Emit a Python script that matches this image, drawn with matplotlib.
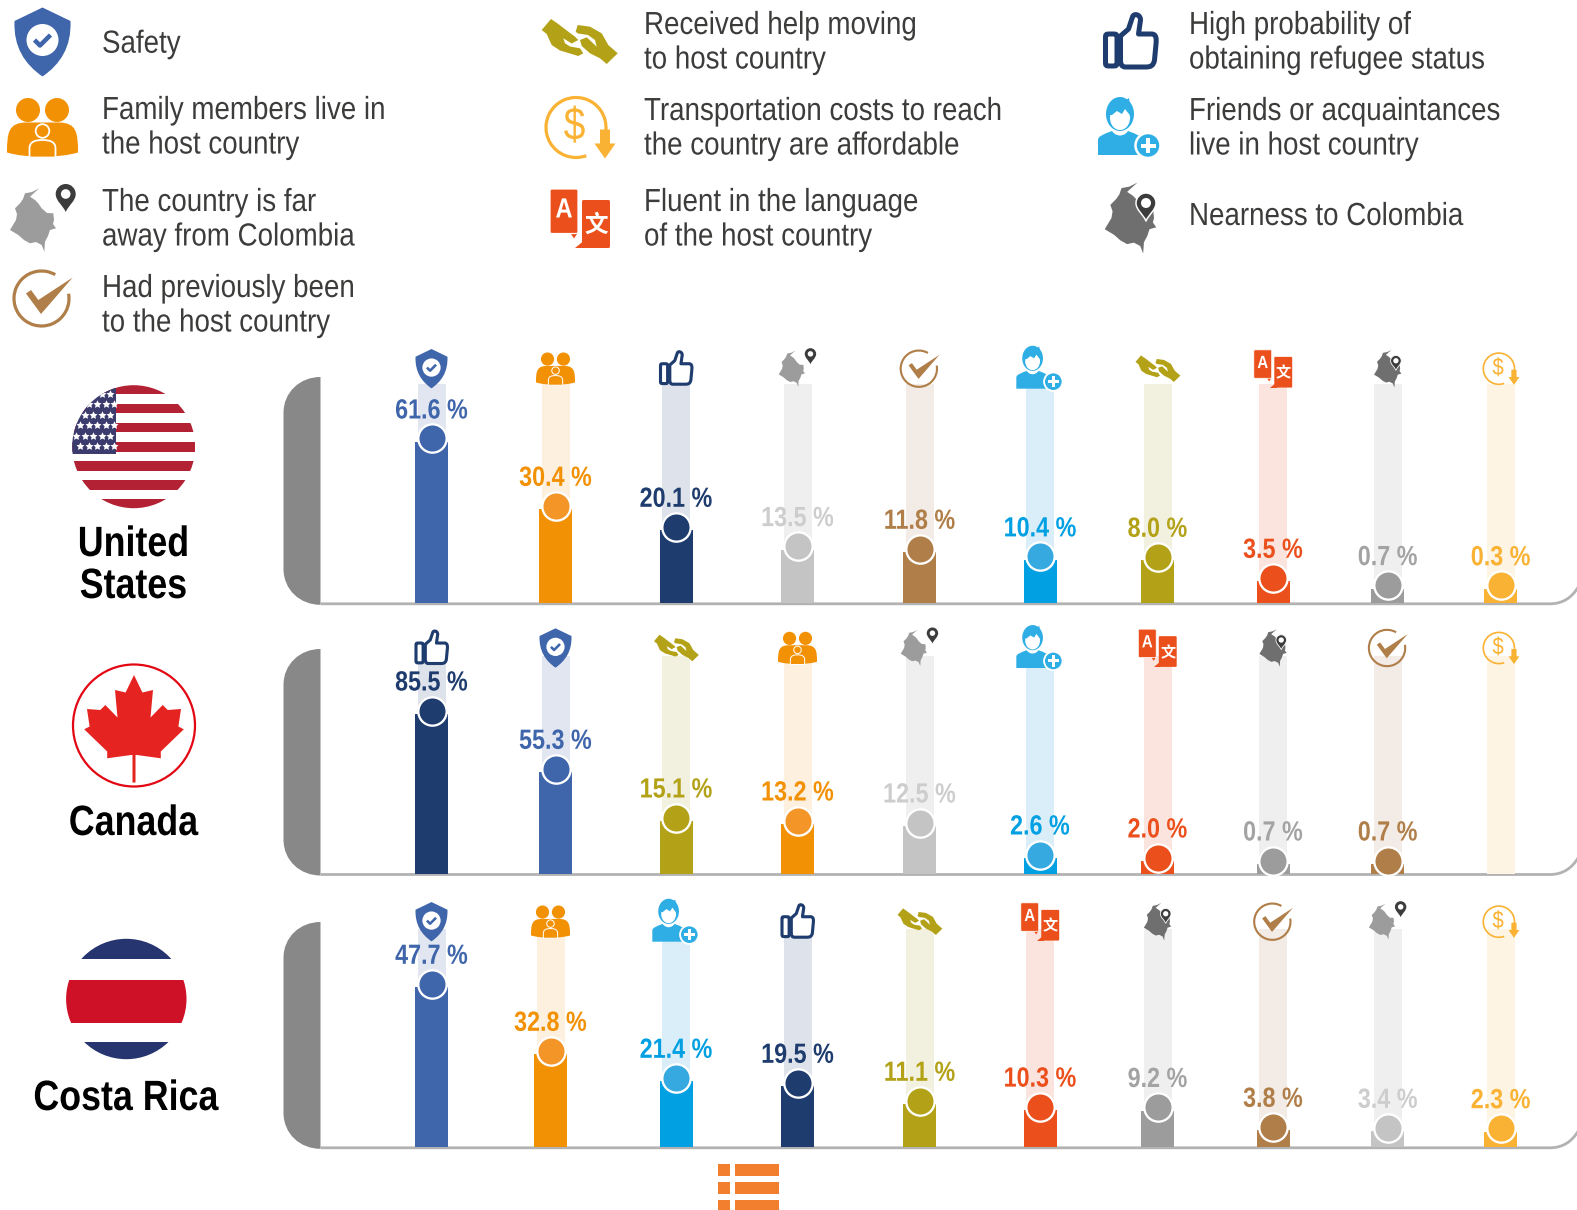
"""Reasons for choosing a host country: three panels of ranked bars with icons and flags."""

import matplotlib
matplotlib.use("Agg")
import matplotlib.pyplot as plt
import numpy as np
from matplotlib.patches import Circle, PathPatch, Polygon, Rectangle
from matplotlib.path import Path
from matplotlib.patheffects import AbstractPathEffect
from matplotlib.transforms import Affine2D, offset_copy

W, H = 1577, 1210
SANS = ["Liberation Sans", "DejaVu Sans"]

# Survey answers per host country, in ranked order (None = nothing reported).
US_KEYS = ["safety", "family", "refugee", "far", "before", "friends", "help", "language", "near", "cost"]
US_VALUES = [61.6, 30.4, 20.1, 13.5, 11.8, 10.4, 8.0, 3.5, 0.7, 0.3]
CA_KEYS = ["refugee", "safety", "help", "family", "far", "friends", "language", "near", "before", "cost"]
CA_VALUES = [85.5, 55.3, 15.1, 13.2, 12.5, 2.6, 2.0, 0.7, 0.7, None]
CR_KEYS = ["safety", "family", "friends", "refugee", "help", "language", "near", "before", "far", "cost"]
CR_VALUES = [47.7, 32.8, 21.4, 19.5, 11.1, 10.3, 9.2, 3.8, 3.4, 2.3]

# The panels use an uneven percent axis, one per country: percent -> height in px.
US_AXIS_PCT = [0, 0.3, 0.7, 3.5, 8.0, 10.4, 11.8, 13.5, 20.1, 30.4, 61.6, 84.0]
US_AXIS_PX = [0, 14.5, 14.7, 22, 43, 43.4, 51, 53.7, 73, 94, 161.3, 219]
CA_AXIS_PCT = [0, 0.7, 2.0, 2.6, 12.5, 13.2, 15.1, 55.3, 85.5, 117.0]
CA_AXIS_PX = [0, 10, 13, 16, 48, 50, 53, 101.7, 160, 218]
CR_AXIS_PCT = [0, 2.3, 3.4, 3.8, 9.2, 10.3, 11.1, 19.5, 21.4, 32.8, 47.7, 65.0]
CR_AXIS_PX = [0, 15.6, 16, 17, 36.8, 37.2, 43, 61, 66, 93, 160, 218]

BAR_COLOR = {"safety": "#3F65AB", "family": "#F29104", "refugee": "#1E3C6D", "far": "#C4C4C4",
             "before": "#B07E48", "friends": "#00A0E3", "help": "#B3A217", "language": "#EB501C",
             "near": "#9D9C9C", "cost": "#F9B233"}
DOT_COLOR = dict(BAR_COLOR, family="#F39527", friends="#36A9E0")
LABEL_COLOR = dict(BAR_COLOR, far="#CDCDCD", near="#A3A3A3")
TRACK_COLOR = {"safety": "#E2E6F1", "family": "#FDF0DF", "refugee": "#DDE2EB", "far": "#EFEFEF",
               "before": "#F3EBE5", "friends": "#D9EEF9", "help": "#F2F0DE", "language": "#FBE4DE",
               "near": "#EFEFEF", "cost": "#FEF4E3"}
ICON_SCALE = {"safety": 0.57, "family": 0.55, "refugee": 0.62, "far": 0.57, "before": 0.66,
              "friends": 0.74, "help": 0.59, "language": 0.64, "near": 0.53, "cost": 0.52}

SLOT_X = [431.5, 555.5, 676, 797.5, 919.5, 1040, 1157.5, 1273, 1387.7, 1500.7]

LEGEND = [
    ("safety", (42.5, 42), 102, 52.7, ["Safety"]),
    ("family", (42.5, 127.5), 102, 119, ["Family members live in", "the host country"]),
    ("far", (43, 220), 102, 211, ["The country is far", "away from Colombia"]),
    ("before", (42.5, 298.5), 102, 297, ["Had previously been", "to the host country"]),
    ("help", (579, 41.5), 644, 34, ["Received help moving", "to host country"]),
    ("cost", (579.5, 127.5), 644, 120, ["Transportation costs to reach", "the country are affordable"]),
    ("language", (580, 218.5), 644, 211, ["Fluent in the language", "of the host country"]),
    ("refugee", (1130.5, 42), 1189, 34, ["High probability of", "obtaining refugee status"]),
    ("friends", (1130, 128), 1189, 120, ["Friends or acquaintances", "live in host country"]),
    ("near", (1130.5, 218), 1189, 225, ["Nearness to Colombia"]),
]


class Condense(AbstractPathEffect):
    """Squeeze glyphs horizontally about a pixel column; no condensed family is installed."""

    def __init__(self, factor, anchor_x):
        super().__init__()
        self.factor = factor
        self.anchor_x = anchor_x

    def draw_path(self, renderer, gc, tpath, affine, rgbFace=None):
        squeeze = Affine2D().translate(-self.anchor_x, 0).scale(self.factor, 1).translate(self.anchor_x, 0)
        renderer.draw_path(gc, tpath, affine + squeeze, rgbFace)


def curve(start, *segs):
    """Closed path from a start point; 2-tuples are lines, 6-tuples are cubic curves."""
    verts, codes = [start], [Path.MOVETO]
    for seg in segs:
        if len(seg) == 2:
            verts.append(seg)
            codes.append(Path.LINETO)
        else:
            verts += [seg[:2], seg[2:4], seg[4:]]
            codes += [Path.CURVE4] * 3
    verts.append(start)
    codes.append(Path.CLOSEPOLY)
    return Path(verts, codes)


def rrect(x0, y0, x1, y1, r):
    return curve((x0 + r, y0), (x1 - r, y0), (x1, y0, x1, y0, x1, y0 + r), (x1, y1 - r),
                 (x1, y1, x1, y1, x1 - r, y1), (x0 + r, y1), (x0, y1, x0, y1, x0, y1 - r),
                 (x0, y0 + r), (x0, y0, x0, y0, x0 + r, y0))


def poly(*pts):
    return Path(list(pts) + [pts[0]], [Path.MOVETO] + [Path.LINETO] * (len(pts) - 1) + [Path.CLOSEPOLY])


COLOMBIA = poly((6.3, -31.7), (-1, -28), (-8, -26.7), (-10, -21), (-13, -16.7), (-18, -11.7), (-16, -6), (-17, 0),
                (-20, 5), (-23, 10), (-14.7, 15), (-9, 20), (-3, 23.3), (3, 22), (8.7, 25), (11.3, 31.7), (12, 21.7),
                (15, 16), (17, 10), (23, 8.3), (20, 4), (21, 0), (20.3, -6.7), (14, -7), (8.7, -11.7), (5, -17),
                (2, -20), (-3, -23.3), (1, -27))
PIN = curve((0, 14), (-3, 7, -10, 3, -10, -4), (-10, -9.5, -5.5, -14, 0, -14), (5.5, -14, 10, -9.5, 10, -4),
            (10, 3, 3, 7, 0, 14))


def draw_icon(ax, key, cx, cy, s):
    t = Affine2D().scale(s).translate(cx, cy) + ax.transData

    def add(path, fc="none", ec="none", lw=0.0):
        ax.add_patch(PathPatch(path, fc=fc, ec=ec, lw=lw * s * 0.72, transform=t, joinstyle="round"))

    def circ(x, y, r, **kw):
        add(Path.circle((x, y), r), **kw)

    col = BAR_COLOR[key]
    if key == "safety":
        add(curve((0, -34.5), (28, -21), (29, 5, 18, 22, 0, 34.5), (-18, 22, -29, 5, -28, -21)), fc=col)
        circ(0, -2, 16, fc="white")
        add(Path([(-8, -2), (-2.5, 3.5), (8, -7)]), ec=col, lw=4.5)
    elif key == "family":
        circ(-14.5, -17.5, 12, fc=col)
        circ(14.5, -17.5, 12, fc=col)
        add(curve((-35.5, 25), (-35.5, 5, -34, -5, -16, -5), (16, -5), (34, -5, 35.5, 5, 35.5, 25),
                  (25, 28, 15, 29, 0, 29), (-15, 29, -25, 28, -35.5, 25)), fc=col)
        circ(0, 3.5, 6.8, fc=col, ec="white", lw=1.8)
        add(curve((-13, 30), (-13, 21), (-13, 14, -7, 12.5, 0, 12.5), (7, 12.5, 13, 14, 13, 21), (13, 30)),
            fc=col, ec="white", lw=1.8)
    elif key == "far":
        add(COLOMBIA.transformed(Affine2D().translate(-10, 0)), fc="#9D9C9C")
        add(PIN.transformed(Affine2D().translate(22.7, -22)), fc="#3C3C3C")
        circ(22.7, -26, 4.8, fc="white")
    elif key == "near":
        add(COLOMBIA.transformed(Affine2D().scale(1.12)), fc="#6F6F6F")
        add(PIN.transformed(Affine2D().translate(15.5, -11)), fc="#3C3C3C", ec="white", lw=1.5)
        circ(15.5, -15, 5, fc="white")
    elif key == "before":
        add(Path.arc(-10, 300).transformed(Affine2D().scale(27.5).translate(-1, 0)), ec=col, lw=3.2)
        add(poly((-16.5, -5), (-11.5, -8.5), (-4.2, 1.5), (30.2, -21), (-1.5, 15.5)), fc=col)
    elif key == "friends":
        col = "#2EAEE5"
        add(Path.unit_circle().transformed(Affine2D().scale(14, 17).translate(-10, -14)), fc=col)
        add(Path.unit_circle().transformed(Affine2D().scale(10, 12).translate(-10, -10)), fc="white")
        add(poly((-22, -13), (-19, -24), (-11, -27), (-8, -31), (-5, -27), (-1, -30), (0, -22), (2, -12), (-1, -14),
                 (-5, -19), (-8, -14), (-13, -17), (-18, -13)), fc=col)
        add(curve((-32, 27), (-32, 12), (-32, 8, -26, 6, -18, 3), (-14, 9, -6, 9, -2, 3), (6, 6, 12, 8, 12, 12),
                  (12, 27)), fc=col)
        circ(18, 17.5, 12.5, fc=col, ec="white", lw=2.5)
        add(poly((16, 10), (20, 10), (20, 15.5), (25.5, 15.5), (25.5, 19.5), (20, 19.5), (20, 25), (16, 25),
                 (16, 19.5), (10.5, 19.5), (10.5, 15.5), (16, 15.5)), fc="white")
    elif key == "refugee":
        add(rrect(-25, -8, -13.5, 24, 5), fc="white", ec=col, lw=5)
        add(curve((-10, -6), (-2, -13), (2, -25), (3, -29, 10, -28, 10, -22), (8, -8), (21, -8),
                  (26, -8, 26, -3, 25.5, 2), (24, 18), (23, 24, 20, 25, 15, 25), (-5, 25), (-9, 25, -10, 22, -10, 18)),
            fc="white", ec=col, lw=5)
    elif key == "help":
        add(poly((-28, -22.5), (-37.3, -11.5), (-32.3, -7.5), (-27.3, 3.5), (-19, 9), (-0.7, 14.5), (4.3, 11.8),
                 (1, 6.8), (-9, 5), (-14, 1.8), (-15.7, -3.2), (-7.3, 2), (-0.7, -1.5), (-4, -4.8), (-10.7, -9.8),
                 (-20.7, -17.5)), fc=col)
        add(poly((-3.3, -9.8), (-1.3, -16.5), (11, -14.8), (22.7, -8.2), (29.3, 3.5), (38.7, 11.8), (27.7, 22.5),
                 (21, 16.8), (11, 11.8), (2.7, 4.5), (1, -1.5), (7.7, -4.2), (17.7, 5.2), (16, -1.5), (9, -6.5),
                 (-1, -8)), fc=col)
    elif key == "language":
        add(rrect(2, -18.5, 30, 29.5, 3), fc=col)
        add(poly((-5, 29.5), (6, 29.5), (6, 20)), fc=col)
        add(poly((-10, 14), (-2, 14), (-6, 20)), fc=col)
        add(rrect(-30, -29.5, -2, 15, 3.5), fc=col, ec="white", lw=1.2)
        ax.text(cx - 16 * s, cy - 8 * s, "A", color="white", family=SANS, weight="bold", fontsize=20 * s,
                ha="center", va="center", path_effects=[Condense(0.85, cx - 16 * s)])
        ax.text(cx + 16 * s, cy + 6 * s, "文", color="white", family=["Noto Sans CJK SC", "DejaVu Sans"],
                weight="bold", fontsize=17 * s, ha="center", va="center")
    elif key == "cost":
        add(Path.arc(70, 385).transformed(Affine2D().scale(30).translate(-3.5, 0)), ec=col, lw=3.2)
        add(poly((20.5, 2), (30.5, 2), (30.5, 16), (36, 16), (25.5, 31), (15, 16), (20.5, 16)), fc=col)
        ax.text(cx - 5 * s, cy, "$", color=col, family=SANS, fontsize=33 * s, ha="center", va="center",
                path_effects=[Condense(0.85, cx - 5 * s)])


def draw_us_flag(ax):
    cx, cy, r = 133.7, 446.7, 61.5
    clip = Circle((cx, cy), r, transform=ax.transData)
    top = cy - r - 0.5
    for i in range(13):
        st = Rectangle((cx - r, top + i * 9.55), 2 * r, 9.55, fc="#B22234" if i % 2 == 0 else "white", ec="none")
        ax.add_patch(st)
        st.set_clip_path(clip)
    canton = Rectangle((cx - r, top), 44, 69, fc="#3C3B6E", ec="none")
    ax.add_patch(canton)
    canton.set_clip_path(clip)
    for row in range(6):
        for col in range(5):
            sx = cx - r + 4 + col * 8.5 + (row % 2) * 4
            sy = top + 9 + row * 10.5
            mark, = ax.plot(sx, sy, marker=(5, 1), ms=6, color="white", mew=0, ls="")
            mark.set_clip_path(clip)


def draw_canada_flag(ax):
    cx, cy = 134, 725.5
    ax.add_patch(Circle((cx, cy), 61, fc="white", ec="#E30613", lw=1.6))
    half = [(0, -50.5), (8.4, -33), (19, -35.5), (16.5, -8), (28.7, -20.5), (33.7, -15.5), (47, -16.5), (44.4, 1),
            (49.8, 3.8), (26.8, 26), (26.8, 32.8), (3, 29.5), (1.5, 29.5), (1.5, 57)]
    pts = half + [(-x, y) for x, y in reversed(half[1:])]
    ax.add_patch(Polygon([(cx + x, cy + y) for x, y in pts], fc="#E52421", ec="none"))


def draw_costa_rica_flag(ax):
    cx, cy, r = 126.3, 999, 60.2
    clip = Circle((cx, cy), r, transform=ax.transData)
    bands = [(935, 959, "#263570"), (959, 980, "white"), (980, 1022.7, "#CE1126"),
             (1022.7, 1041.7, "white"), (1041.7, 1062, "#263570")]
    for y0, y1, c in bands:
        st = Rectangle((cx - r, y0), 2 * r, y1 - y0, fc=c, ec="none")
        ax.add_patch(st)
        st.set_clip_path(clip)


def draw_frame(ax, top, base):
    """Grey end cap on the left and the baseline curling up at the right edge."""
    bot = base + 1.5
    ax.add_patch(PathPatch(curve((320.5, top), (320.5, bot), (300, bot, 283.5, bot - 15, 283.5, bot - 36),
                                 (283.5, top + 36), (283.5, top + 15, 300, top, 320.5, top)),
                           fc="#888888", ec="none"))
    line = Path([(320.5, base + 0.5), (1550, base + 0.5), (1563, base + 0.5), (1572, base - 6), (1578, base - 16)],
                [Path.MOVETO, Path.LINETO, Path.CURVE4, Path.CURVE4, Path.CURVE4])
    ax.add_patch(PathPatch(line, fc="none", ec="#B2B2B2", lw=2.0))


def draw_panel(fig, keys, values, axis_pct, axis_px, base, height, slot_x):
    """One panel: tracks, bars, dots and percent labels on the panel's own percent axis."""
    ax = fig.add_axes([0, (H - base) / H, 1, height / H], zorder=1)
    ax.set_yscale("function", functions=(lambda v: np.interp(v, axis_pct, axis_px),
                                         lambda p: np.interp(p, axis_px, axis_pct)))
    ax.set_xlim(0, W)
    ax.set_ylim(0, axis_pct[-1])
    ax.axis("off")
    lifted = offset_copy(ax.transData, fig=fig, y=3.5, units="dots")
    for x, key, v in zip(slot_x, keys, values):
        ax.bar(x, axis_pct[-1], width=28, color=TRACK_COLOR[key], zorder=1)
        if v is None:
            continue
        ax.bar(x, v, width=33, color=BAR_COLOR[key], zorder=2)
        ax.scatter([x], [v], s=416, color=DOT_COLOR[key], edgecolors="white", linewidths=1.66,
                   transform=lifted, clip_on=False, zorder=3)
        ax.annotate(f"{v:.1f} %", (x, v), xytext=(0, 23.5), textcoords="offset pixels", ha="center", va="baseline",
                    color=LABEL_COLOR[key], family=SANS, weight="bold", fontsize=20, zorder=4,
                    annotation_clip=False, path_effects=[Condense(0.84, x)])
    return ax


fig = plt.figure(figsize=(W / 100, H / 100), dpi=100, facecolor="white")
bg = fig.add_axes([0, 0, 1, 1], zorder=0)
fg = fig.add_axes([0, 0, 1, 1], zorder=2)
for a in (bg, fg):
    a.set_xlim(0, W)
    a.set_ylim(H, 0)
    a.axis("off")

# Legend of reasons
for key, (ix, iy), tx, ty, lines in LEGEND:
    draw_icon(bg, key, ix, iy, 1.0)
    for i, line in enumerate(lines):
        bg.text(tx, ty + i * 34.5, line, family=SANS, fontsize=23, color="#3C3C3B", va="baseline",
                path_effects=[Condense(0.868, tx)])

PANELS = [
    (US_KEYS, US_VALUES, US_AXIS_PCT, US_AXIS_PX, 603.3, 219, 377, 368.7, SLOT_X),
    (CA_KEYS, CA_VALUES, CA_AXIS_PCT, CA_AXIS_PX, 874, 218, 649, 648, SLOT_X),
    (CR_KEYS, CR_VALUES, CR_AXIS_PCT, CR_AXIS_PX, 1147.3, 218, 922, 921.7, SLOT_X[:1] + [550.5] + SLOT_X[2:]),
]
for keys, values, pct, px, base, height, cap_top, icon_y, slots in PANELS:
    draw_frame(bg, cap_top, base)
    draw_panel(fig, keys, values, pct, px, base, height, slots)
    for x, key in zip(slots, keys):
        draw_icon(fg, key, x, icon_y, ICON_SCALE[key])

draw_us_flag(bg)
draw_canada_flag(bg)
draw_costa_rica_flag(bg)
for x, y, name in [(133.5, 556, "United"), (133.5, 598, "States"), (133.5, 835, "Canada"), (126, 1110, "Costa Rica")]:
    bg.text(x, y, name, family=SANS, weight="bold", fontsize=30.5, color="black", ha="center", va="baseline",
            path_effects=[Condense(0.845, x)])

# Corner list glyph at the foot of the page
for y in (1164, 1182, 1200):
    bg.add_patch(Rectangle((718, y), 12, 11.5, fc="#F27F2E", ec="none"))
    bg.add_patch(Rectangle((735, y), 44, 11.5, fc="#F27F2E", ec="none"))

fig.savefig("out.png", dpi=100)
